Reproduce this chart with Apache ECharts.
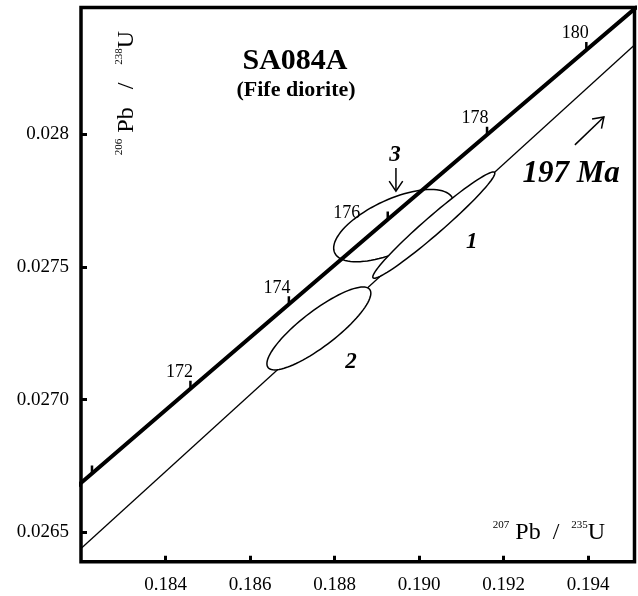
<!DOCTYPE html>
<html>
<head>
<meta charset="utf-8">
<script src="https://cdn.jsdelivr.net/npm/echarts@6/dist/echarts.min.js"></script>
<style>
  html, body { margin: 0; padding: 0; background: #fff; }
  #main { width: 638px; height: 596px; }
</style>
</head>
<body>
<div id="main"></div>
<script>
// concordia curve (thick line), vertices at each 2 Ma
const concordiaAge = [168, 170, 172, 174, 176, 178, 180, 182];
const concordiaX = [0.17993, 0.18226, 0.18459, 0.18692, 0.18926, 0.19161, 0.19396, 0.19631];
const concordiaY = [0.026404, 0.026722, 0.027041, 0.027359, 0.027678, 0.027997, 0.028316, 0.028635];
// age ticks along the concordia
const tickAges = [170, 172, 174, 176, 178, 180];
const tickLabels = ['', '172', '174', '176', '178', '180'];

// discordia towards 197 Ma (thin line)
const discordiaX = [0.182, 0.1951];
const discordiaY = [0.02644, 0.028335];

// error ellipses: centre, half width, half height, correlation
const ellipseNames = ['3', '1', '2'];
const ellipseCX = [0.18940, 0.19035, 0.18763];
const ellipseCY = [0.027655, 0.027657, 0.027268];
const ellipseSX = [0.00142, 0.001444, 0.00123];
const ellipseSY = [0.000136, 0.0002, 0.000156];
const ellipseRho = [0.62, 0.975, 0.85];

// annotations
const noteText = ['3', '1', '2', '197 Ma'];
const noteX = [0.18943, 0.19125, 0.18839, 0.19360];
const noteY = [0.027921, 0.027593, 0.027141, 0.027849];
const arrowFromX = [0.189454, 0.193689];
const arrowFromY = [0.027872, 0.027959];
const arrowToX = [0.189454, 0.194376];
const arrowToY = [0.027785, 0.028064];

// axes
const xTicks = [0.184, 0.186, 0.188, 0.190, 0.192, 0.194];
const xTickLabels = ['0.184', '0.186', '0.188', '0.190', '0.192', '0.194'];
const yTicks = [0.0265, 0.0270, 0.0275, 0.0280];
const yTickLabels = ['0.0265', '0.0270', '0.0275', '0.028'];

const SERIF = '"Liberation Serif", "Times New Roman", serif';

function lookup(ticks, labels) {
  return function (v) {
    const i = ticks.findIndex(t => Math.abs(t - v) < 1e-9);
    return i >= 0 ? labels[i] : '';
  };
}

const concordiaData = concordiaX.map((x, i) => [x, concordiaY[i]]);
const tickData = tickAges.map(a => {
  const i = concordiaAge.indexOf(a);
  return [concordiaX[i], concordiaY[i]];
});
// label offset from tick point, px
const tickLabelOffset = [[0, 0], [-11, -16], [-12, -16], [-41, -6], [-12, -16], [-11, -16.5]];

const ellipseData = ellipseCX.map((cx, i) => [cx, ellipseCY[i], ellipseSX[i], ellipseSY[i], ellipseRho[i]]);
const noteData = noteX.map((x, i) => [x, noteY[i]]);
const arrowData = arrowFromX.map((x, i) => [x, arrowFromY[i], arrowToX[i], arrowToY[i]]);

const axisTitleRich = {
  s: { fontFamily: SERIF, fontSize: 11, verticalAlign: 'top', lineHeight: 26, fill: '#000' },
  m: { fontFamily: SERIF, fontSize: 24, lineHeight: 26, fill: '#000' }
};

const chart = echarts.init(document.getElementById('main'));

const option = {
  backgroundColor: '#fff',
  animation: false,
  grid: {
    left: 81, top: 7.5, right: 3.5, bottom: 34.3,
    show: true, borderColor: '#000', borderWidth: 3.5
  },
  xAxis: {
    type: 'value',
    min: 0.182,
    max: 0.1951,
    axisLine: { show: false },
    splitLine: { show: false },
    axisTick: { customValues: xTicks, inside: true, length: 6, lineStyle: { color: '#000', width: 3 } },
    axisLabel: {
      customValues: xTicks, formatter: lookup(xTicks, xTickLabels),
      color: '#000', fontFamily: SERIF, fontSize: 19, margin: 14
    }
  },
  yAxis: {
    type: 'value',
    min: 0.02639,
    max: 0.028476,
    axisLine: { show: false },
    splitLine: { show: false },
    axisTick: { customValues: yTicks, inside: true, length: 6, lineStyle: { color: '#000', width: 3 } },
    axisLabel: {
      customValues: yTicks, formatter: lookup(yTicks, yTickLabels),
      color: '#000', fontFamily: SERIF, fontSize: 19, margin: 12
    }
  },
  graphic: [
    { type: 'text', x: 295, y: 61, style: { text: 'SA084A', font: 'bold 30px ' + SERIF, fill: '#000', align: 'center', verticalAlign: 'middle' } },
    { type: 'text', x: 296, y: 90, style: { text: '(Fife diorite)', font: 'bold 22px ' + SERIF, fill: '#000', align: 'center', verticalAlign: 'middle' } },
    {
      type: 'text', x: 549, y: 533,
      style: {
        text: '{s|207}{m| Pb  /  }{s|235}{m|U}',
        align: 'center', verticalAlign: 'middle', fill: '#000', rich: axisTitleRich
      }
    },
    {
      type: 'text', x: 127, y: 93, rotation: Math.PI / 2,
      style: {
        text: '{s|206}{m| Pb   /   }{s|238}{m|U}',
        align: 'center', verticalAlign: 'middle', fill: '#000', rich: axisTitleRich
      }
    }
  ],
  series: [
    {
      name: 'discordia',
      type: 'line',
      data: discordiaX.map((x, i) => [x, discordiaY[i]]),
      symbol: 'none',
      lineStyle: { color: '#000', width: 1.3 },
      z: 1
    },
    {
      name: 'ellipses',
      type: 'custom',
      data: ellipseData,
      encode: { x: 0, y: 1 },
      z: 2,
      renderItem: function (params, api) {
        const cx = api.value(0), cy = api.value(1), sx = api.value(2), sy = api.value(3), r = api.value(4);
        const pts = [];
        const n = 90;
        for (let k = 0; k < n; k++) {
          const t = (k / n) * Math.PI * 2;
          pts.push(api.coord([
            cx + sx * Math.cos(t),
            cy + sy * (r * Math.cos(t) + Math.sqrt(1 - r * r) * Math.sin(t))
          ]));
        }
        return {
          type: 'polygon',
          shape: { points: pts },
          style: { fill: '#fff', stroke: '#000', lineWidth: 1.5 }
        };
      }
    },
    {
      name: 'concordia',
      type: 'line',
      data: concordiaData,
      symbol: 'none',
      lineStyle: { color: '#000', width: 4 },
      z: 3
    },
    {
      name: 'ages',
      type: 'custom',
      data: tickData,
      encode: { x: 0, y: 1 },
      z: 4,
      renderItem: function (params, api) {
        const p = api.coord([api.value(0), api.value(1)]);
        const i = params.dataIndex;
        const off = tickLabelOffset[i];
        return {
          type: 'group',
          children: [
            { type: 'line', shape: { x1: p[0], y1: p[1], x2: p[0], y2: p[1] - 8 }, style: { stroke: '#000', lineWidth: 2.5 } },
            {
              type: 'text', x: p[0] + off[0], y: p[1] + off[1],
              style: { text: tickLabels[i], font: '18px ' + SERIF, fill: '#000', align: 'center', verticalAlign: 'middle' }
            }
          ]
        };
      }
    },
    {
      name: 'notes',
      type: 'custom',
      data: noteData,
      encode: { x: 0, y: 1 },
      z: 5,
      renderItem: function (params, api) {
        const p = api.coord([api.value(0), api.value(1)]);
        const i = params.dataIndex;
        const size = noteText[i].length > 2 ? 31 : 23;
        return {
          type: 'text', x: p[0], y: p[1],
          style: { text: noteText[i], font: 'italic bold ' + size + 'px ' + SERIF, fill: '#000', align: 'center', verticalAlign: 'middle' }
        };
      }
    },
    {
      name: 'arrows',
      type: 'custom',
      data: arrowData,
      encode: { x: [0, 2], y: [1, 3] },
      z: 5,
      renderItem: function (params, api) {
        const a = api.coord([api.value(0), api.value(1)]);
        const b = api.coord([api.value(2), api.value(3)]);
        const ang = Math.atan2(b[1] - a[1], b[0] - a[0]);
        const len = 12, spread = 0.6;
        const w1 = [b[0] - len * Math.cos(ang - spread), b[1] - len * Math.sin(ang - spread)];
        const w2 = [b[0] - len * Math.cos(ang + spread), b[1] - len * Math.sin(ang + spread)];
        const st = { stroke: '#000', lineWidth: 1.5, fill: null };
        return {
          type: 'group',
          children: [
            { type: 'line', shape: { x1: a[0], y1: a[1], x2: b[0], y2: b[1] }, style: st },
            { type: 'polyline', shape: { points: [w1, b, w2] }, style: st }
          ]
        };
      }
    }
  ]
};

chart.setOption(option);
</script>
</body>
</html>
